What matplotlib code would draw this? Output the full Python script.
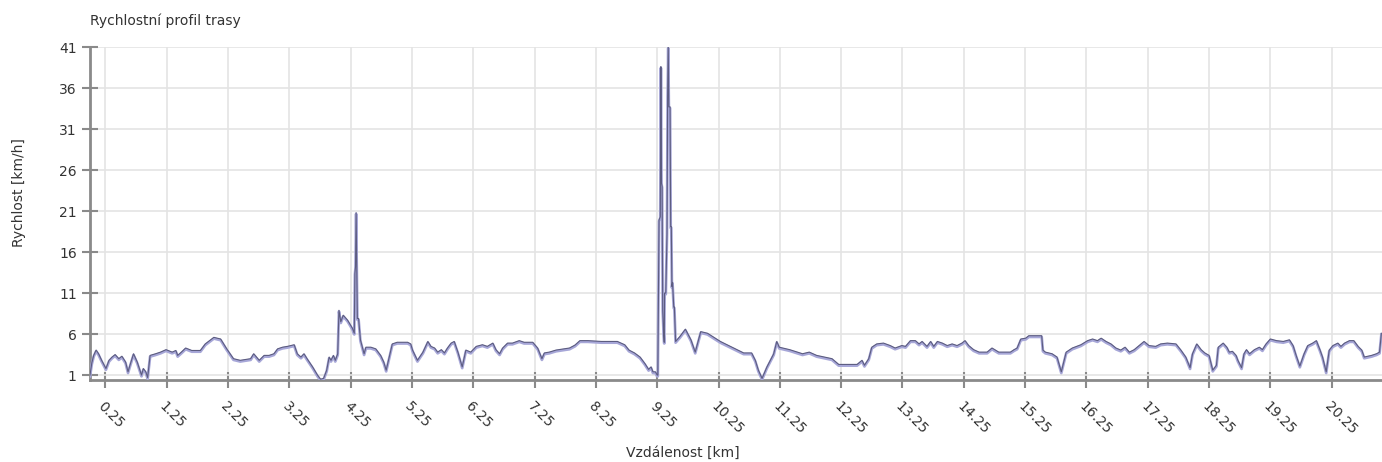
import matplotlib
matplotlib.use("Agg")
import matplotlib.pyplot as plt
import matplotlib.transforms as mtransforms
import numpy as np

#%% Data
dist_km = [0.00, 0.03, 0.06, 0.10, 0.14, 0.19, 0.26, 0.31, 0.36, 0.41, 0.47, 0.52, 0.58, 0.62, 0.66,
           0.71, 0.77, 0.84, 0.87, 0.91, 0.94, 0.98, 1.07, 1.15, 1.24, 1.34, 1.40, 1.43, 1.49, 1.56,
           1.66, 1.80, 1.88, 2.02, 2.13, 2.23, 2.34, 2.45, 2.62, 2.67, 2.76, 2.84, 2.92, 3.00, 3.06,
           3.14, 3.22, 3.33, 3.38, 3.44, 3.49, 3.54, 3.63, 3.71, 3.76, 3.81, 3.86, 3.90, 3.93, 3.97,
           4.00, 4.04, 4.05, 4.06, 4.09, 4.13, 4.20, 4.28, 4.31, 4.32, 4.33, 4.34, 4.35, 4.36, 4.38,
           4.41, 4.47, 4.50, 4.58, 4.66, 4.74, 4.79, 4.83, 4.88, 4.93, 5.01, 5.18, 5.23, 5.26, 5.34,
           5.43, 5.51, 5.56, 5.62, 5.67, 5.73, 5.78, 5.83, 5.89, 5.94, 6.00, 6.07, 6.13, 6.21, 6.30,
           6.40, 6.48, 6.57, 6.62, 6.68, 6.73, 6.81, 6.89, 7.00, 7.08, 7.22, 7.30, 7.37, 7.41, 7.49,
           7.60, 7.82, 7.91, 7.99, 8.12, 8.34, 8.60, 8.72, 8.79, 8.88, 8.97, 9.05, 9.11, 9.15, 9.18,
           9.22, 9.25, 9.26, 9.28, 9.30, 9.31, 9.32, 9.33, 9.34, 9.355, 9.365, 9.37, 9.39, 9.41, 9.42,
           9.43, 9.44, 9.46, 9.47, 9.48, 9.49, 9.50, 9.52, 9.53, 9.55, 9.62, 9.71, 9.80, 9.87, 9.96,
           10.07, 10.28, 10.55, 10.66, 10.79, 10.85, 10.90, 10.96, 11.04, 11.15, 11.20, 11.24, 11.41, 11.62, 11.73,
           11.85, 12.10, 12.21, 12.51, 12.59, 12.63, 12.70, 12.75, 12.83, 12.94, 13.05, 13.13, 13.24, 13.30, 13.38,
           13.46, 13.52, 13.57, 13.65, 13.71, 13.76, 13.82, 13.90, 13.98, 14.06, 14.14, 14.22, 14.27, 14.33, 14.41,
           14.50, 14.63, 14.71, 14.82, 15.01, 15.07, 15.12, 15.18, 15.26, 15.31, 15.52, 15.54, 15.58, 15.69, 15.77,
           15.84, 15.88, 15.92, 16.02, 16.16, 16.27, 16.35, 16.43, 16.49, 16.57, 16.65, 16.73, 16.81, 16.88, 16.95,
           17.03, 17.11, 17.19, 17.27, 17.38, 17.46, 17.57, 17.71, 17.79, 17.87, 17.94, 17.98, 18.05, 18.12, 18.18,
           18.25, 18.31, 18.37, 18.40, 18.48, 18.54, 18.58, 18.63, 18.69, 18.72, 18.78, 18.82, 18.86, 18.91, 18.99,
           19.07, 19.12, 19.18, 19.25, 19.35, 19.46, 19.56, 19.62, 19.67, 19.73, 19.80, 19.86, 19.94, 20.00, 20.06,
           20.10, 20.16, 20.21, 20.27, 20.35, 20.40, 20.46, 20.54, 20.61, 20.68, 20.74, 20.78, 20.90, 20.98, 21.03,
           21.06]

speed_kmh = [1.0, 2.5, 3.4, 4.05, 3.6, 2.8, 1.8, 2.8, 3.2, 3.5, 3.0, 3.3, 2.6, 1.4, 2.4,
             3.6, 2.6, 1.0, 1.8, 1.4, 0.7, 3.4, 3.6, 3.8, 4.1, 3.8, 4.0, 3.4, 3.8, 4.3,
             4.0, 4.0, 4.8, 5.6, 5.4, 4.2, 3.0, 2.8, 3.0, 3.6, 2.8, 3.4, 3.4, 3.6, 4.2,
             4.4, 4.5, 4.7, 3.6, 3.2, 3.6, 3.0, 2.0, 1.0, 0.5, 0.6, 1.6, 3.2, 2.8, 3.4,
             2.8, 3.6, 6.1, 8.9, 7.5, 8.3, 7.7, 6.7, 6.1, 13.4, 14.2, 20.8, 13.8, 7.9, 7.9,
             5.3, 3.6, 4.4, 4.4, 4.2, 3.4, 2.6, 1.6, 3.2, 4.8, 5.0, 5.0, 4.8, 4.05, 2.8,
             3.8, 5.1, 4.5, 4.3, 3.8, 4.1, 3.7, 4.3, 4.9, 5.1, 3.8, 2.0, 4.05, 3.8, 4.5,
             4.7, 4.5, 4.9, 4.1, 3.6, 4.3, 4.9, 4.9, 5.2, 5.0, 5.0, 4.3, 3.0, 3.7, 3.8,
             4.05, 4.3, 4.66, 5.2, 5.2, 5.1, 5.1, 4.7, 4.05, 3.7, 3.2, 2.4, 1.7, 2.0, 1.4,
             1.4, 1.0, 1.0, 19.9, 20.3, 38.6, 24.4, 24.0, 8.9, 6.1, 5.0, 11.0, 11.0, 18.3, 35.0,
             41.0, 33.7, 33.7, 19.1, 19.1, 11.8, 12.3, 9.3, 9.3, 5.1, 5.7, 6.6, 5.3, 3.8, 6.3,
             6.1, 5.1, 4.1, 3.7, 3.7, 2.8, 1.6, 0.6, 2.0, 3.6, 5.1, 4.4, 4.1, 3.6, 3.8,
             3.4, 3.0, 2.3, 2.3, 2.8, 2.2, 3.0, 4.4, 4.8, 4.9, 4.6, 4.3, 4.6, 4.5, 5.2,
             5.2, 4.8, 5.1, 4.5, 5.1, 4.5, 5.1, 4.9, 4.6, 4.8, 4.6, 4.9, 5.2, 4.6, 4.1,
             3.8, 3.8, 4.3, 3.8, 3.8, 4.1, 4.3, 5.4, 5.5, 5.8, 5.8, 4.05, 3.8, 3.6, 3.2,
             1.4, 2.6, 3.8, 4.3, 4.7, 5.2, 5.4, 5.2, 5.5, 5.1, 4.8, 4.3, 4.05, 4.4, 3.8,
             4.1, 4.6, 5.1, 4.6, 4.5, 4.8, 4.9, 4.8, 4.05, 3.2, 1.9, 3.6, 4.8, 4.1, 3.7,
             3.4, 1.6, 2.2, 4.4, 4.9, 4.4, 3.8, 3.9, 3.4, 2.8, 1.9, 3.6, 4.1, 3.6, 4.1,
             4.4, 4.1, 4.8, 5.4, 5.2, 5.1, 5.3, 4.6, 3.4, 2.1, 3.6, 4.6, 4.9, 5.2, 4.05,
             3.2, 1.4, 4.05, 4.6, 4.9, 4.5, 4.9, 5.2, 5.2, 4.5, 4.05, 3.2, 3.4, 3.6, 3.8,
             6.1]

x_ticks = np.arange(0.25, 21.0, 1.0)
y_ticks = np.arange(1, 42, 5)

#%% Figure
fig = plt.figure(figsize=(13.82, 4.62), dpi=100)
ax = fig.add_axes([90/1382, 1 - 380/462, 1 - 90/1382, (380 - 47)/462])

# light shadow band a little below the dark line
shadow = mtransforms.offset_copy(ax.transData, fig=fig, x=0, y=-1.2, units='dots')
ax.plot(dist_km, speed_kmh, color='#a7a7d8', lw=2.0, transform=shadow, zorder=3)
ax.plot(dist_km, speed_kmh, color='#5c5c80', lw=0.8, zorder=4)

ax.set_xlim(0, 21.07)
ax.set_ylim(0.4, 41.0)
ax.set_xticks(x_ticks)
ax.set_xticklabels(['%.2f' % t for t in x_ticks], rotation=-45, ha='left', va='top',
                   rotation_mode='anchor')
ax.set_yticks(y_ticks)

ax.grid(True, color='#e4e4e4', lw=1.2)
ax.set_axisbelow(True)
for s in ['top', 'right']:
    ax.spines[s].set_visible(False)
for s in ['left', 'bottom']:
    ax.spines[s].set_color('#8a8a8a')
    ax.spines[s].set_linewidth(2)
ax.tick_params(direction='inout', length=11, width=1.5, color='#8a8a8a',
               labelsize=10, labelcolor='#333333', pad=4)
ax.tick_params(axis='x', pad=8)

fig.text(90/1382, 1 - 21/462, 'Rychlostní profil trasy', fontsize=10, color='#333333',
         ha='left', va='center')
fig.text(683/1382, 1 - 453/462, 'Vzdálenost [km]', fontsize=10, color='#333333',
         ha='center', va='center')
fig.text(19/1382, 1 - 193/462, 'Rychlost [km/h]', fontsize=10, color='#333333',
         ha='center', va='center', rotation=90)

fig.savefig('out.png', dpi=100)
